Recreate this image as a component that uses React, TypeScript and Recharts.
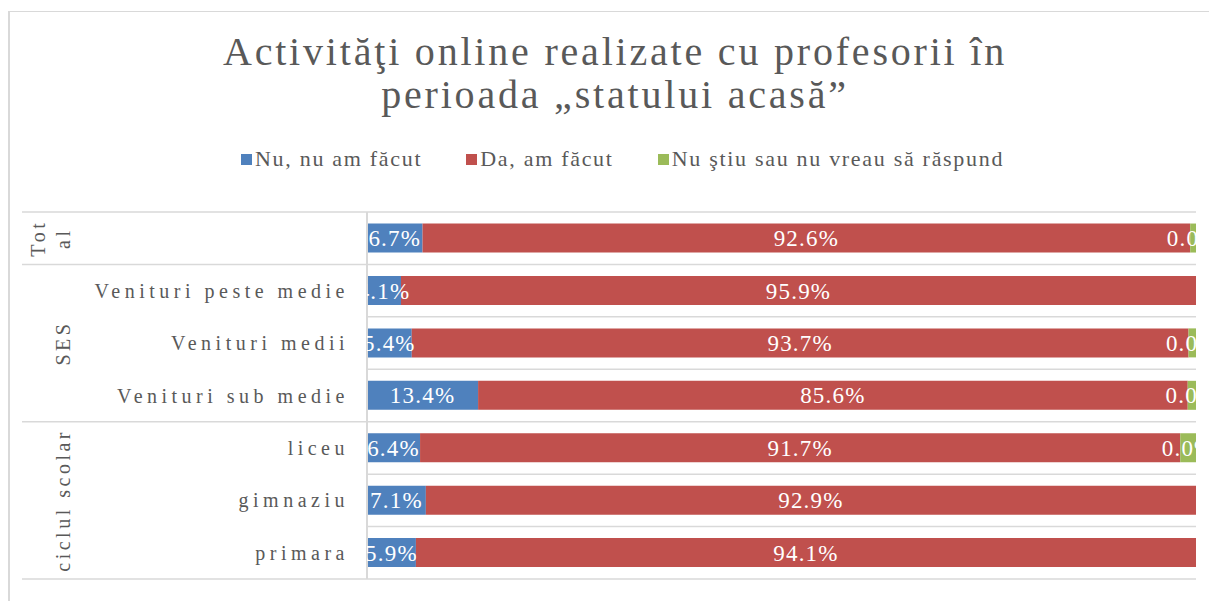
import { BarChart, Bar, XAxis, YAxis, LabelList } from 'recharts'

const CATEGORIES = ['', 'Venituri peste medie', 'Venituri medii', 'Venituri sub medie', 'liceu', 'gimnaziu', 'primara']
const GROUPS = ['Total', 'SES', 'SES', 'SES', 'ciclul scolar', 'ciclul scolar', 'ciclul scolar']
const GROUP_LINES: Record<string, string[]> = {
  Total: ['Tot', 'al'],
  SES: ['SES'],
  'ciclul scolar': ['ciclul scolar'],
}
const NU = [6.7, 4.1, 5.4, 13.4, 6.4, 7.1, 5.9]
const DA = [92.6, 95.9, 93.7, 85.6, 91.7, 92.9, 94.1]
const NU_STIU = [0.7, 0, 0.9, 1.0, 1.9, 0, 0]
const NU_STIU_LABELS = ['0.0%', '', '0.0%', '0.0%', '0.0%', '', '']

const SERIES = [
  { key: 'nu', name: 'Nu, nu am făcut', color: '#4F81BD' },
  { key: 'da', name: 'Da, am făcut', color: '#C0504D' },
  { key: 'nuStiu', name: 'Nu ştiu sau nu vreau să răspund', color: '#9BBB59' },
]

const TITLE = ['Activităţi online realizate cu profesorii în', 'perioada „statului acasă”']

const FONT = '"Liberation Serif", "DejaVu Serif", serif'
const TEXT = '#595959'
const GRID = '#D9D9D9'

const W = 1209
const H = 601
const MARGIN = { top: 212, right: 13, bottom: 22, left: 0 }
const AXIS_W = 367
const PLOT_LEFT = MARGIN.left + AXIS_W
const PLOT_RIGHT = W - MARGIN.right
const PLOT_TOP = MARGIN.top
const PLOT_BOTTOM = H - MARGIN.bottom
const BAND = (PLOT_BOTTOM - PLOT_TOP) / CATEGORIES.length

const data = CATEGORIES.map((cat, i) => ({
  cat,
  nu: NU[i],
  da: DA[i],
  nuStiu: NU_STIU[i],
  nuStiuLabel: NU_STIU_LABELS[i],
}))

function CategoryTick(props: any) {
  const { y, index } = props
  const top = y - BAND / 2
  const group = GROUPS[index]
  const groupStart = index === 0 || GROUPS[index - 1] !== group
  const isLast = index === CATEGORIES.length - 1
  let span = 0
  if (groupStart) {
    while (GROUPS[index + span] === group) span++
  }
  const lines = GROUP_LINES[group] || [group]
  const groupCenter = top + (span * BAND) / 2
  return (
    <g>
      <line x1={groupStart ? 22 : PLOT_LEFT} x2={PLOT_RIGHT} y1={top} y2={top} stroke={GRID} strokeWidth={1.5} />
      {isLast && (
        <line x1={22} x2={PLOT_RIGHT} y1={top + BAND} y2={top + BAND} stroke={GRID} strokeWidth={1.5} />
      )}
      <text
        x={349}
        y={y}
        dy="0.35em"
        textAnchor="end"
        fill={TEXT}
        fontSize={20}
        fontFamily={FONT}
        style={{ letterSpacing: 4.5 }}
      >
        {CATEGORIES[index]}
      </text>
      {groupStart &&
        lines.map((ln, j) => (
          <text
            key={j}
            transform={`translate(${70 - (lines.length - 1 - j) * 25}, ${groupCenter}) rotate(-90)`}
            textAnchor="middle"
            fill={TEXT}
            fontSize={20}
            fontFamily={FONT}
            style={{ letterSpacing: 3.5 }}
          >
            {ln}
          </text>
        ))}
    </g>
  )
}

function SegmentLabel(props: any) {
  const vb = props.viewBox ?? props
  const { x, y, width, height } = vb
  const { value } = props
  if (value === '' || value === 0 || value == null) return null
  const text = typeof value === 'number' ? `${value.toFixed(1)}%` : value
  return (
    <text
      x={x + width / 2}
      y={y + height / 2}
      dy="0.35em"
      textAnchor="middle"
      fill="#FFFFFF"
      fontSize={23}
      fontFamily={FONT}
      clipPath="url(#plot-clip)"
      style={{ letterSpacing: 1.2 }}
    >
      {text}
    </text>
  )
}

export default function App() {
  return (
    <div
      style={{
        position: 'fixed',
        left: 0,
        top: 0,
        width: W,
        height: H,
        overflow: 'hidden',
        background: '#fff',
        fontFamily: FONT,
      }}
    >
      <div
        style={{
          position: 'absolute',
          left: 8,
          top: 11,
          width: W,
          height: H,
          borderLeft: `2px solid ${GRID}`,
          borderTop: `1px solid ${GRID}`,
        }}
      />
      <div
        style={{
          position: 'absolute',
          left: 0,
          top: 30,
          width: 1230,
          textAlign: 'center',
          color: TEXT,
          fontSize: 40,
          lineHeight: '43px',
          letterSpacing: 2.8,
        }}
      >
        {TITLE.map((t, i) => (
          <div key={i}>{t}</div>
        ))}
      </div>
      <div
        style={{
          position: 'absolute',
          left: 241,
          top: 146,
          display: 'flex',
          alignItems: 'center',
          color: TEXT,
          fontSize: 22,
          letterSpacing: 1.7,
          whiteSpace: 'nowrap',
        }}
      >
        {SERIES.map((s, i) => (
          <div key={s.key} style={{ display: 'flex', alignItems: 'center', marginLeft: i === 0 ? 0 : 44 }}>
            <span style={{ display: 'inline-block', width: 11, height: 11, background: s.color, marginRight: 3 }} />
            <span>{s.name}</span>
          </div>
        ))}
      </div>
      <div style={{ position: 'absolute', left: 0, top: 0 }}>
        <BarChart width={W} height={H} data={data} layout="vertical" margin={MARGIN} barCategoryGap="22%">
          <defs>
            <clipPath id="plot-clip">
              <rect x={PLOT_LEFT} y={PLOT_TOP} width={PLOT_RIGHT - PLOT_LEFT} height={PLOT_BOTTOM - PLOT_TOP} />
            </clipPath>
          </defs>
          <XAxis type="number" domain={[0, 100]} hide />
          <YAxis
            type="category"
            dataKey="cat"
            width={AXIS_W}
            interval={0}
            tickLine={false}
            axisLine={{ stroke: GRID, strokeWidth: 2 }}
            tick={<CategoryTick />}
          />
          {SERIES.map((s) => (
            <Bar key={s.key} dataKey={s.key} stackId="a" fill={s.color} isAnimationActive={false}>
              <LabelList dataKey={s.key === 'nuStiu' ? 'nuStiuLabel' : s.key} content={<SegmentLabel />} />
            </Bar>
          ))}
        </BarChart>
      </div>
    </div>
  )
}
